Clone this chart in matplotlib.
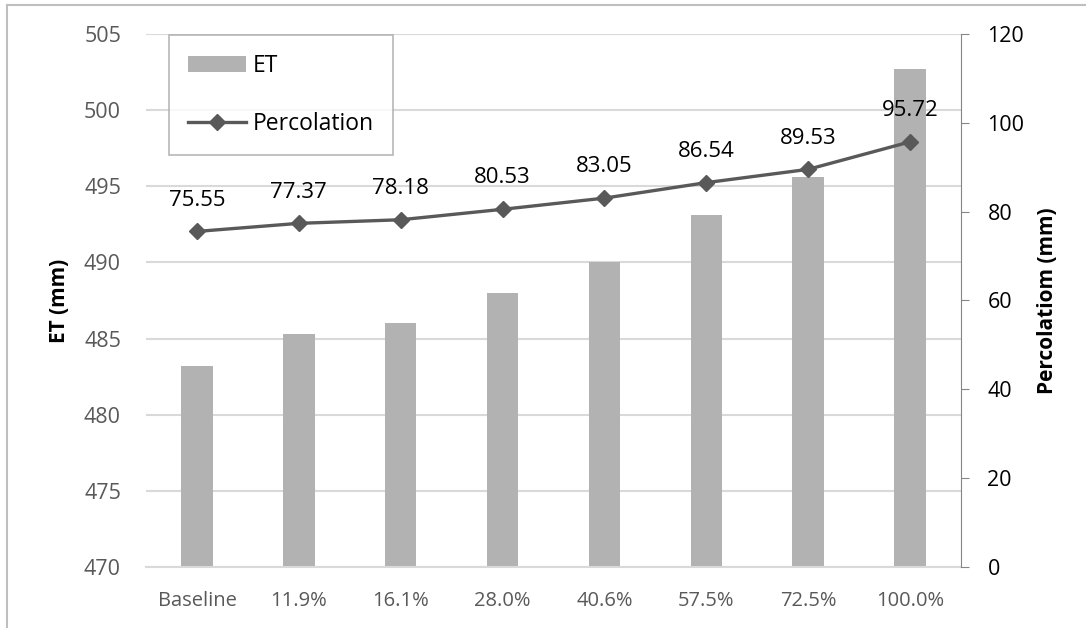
import numpy as np
import matplotlib.pyplot as plt
from matplotlib.lines import Line2D
from matplotlib.patches import Patch

plt.rcParams['font.family'] = ['Open Sans', 'DejaVu Sans']

# data
scenarios = ['Baseline', '11.9%', '16.1%', '28.0%', '40.6%', '57.5%', '72.5%', '100.0%']
et_mm = [483.2, 485.3, 486.0, 488.0, 490.0, 493.1, 495.6, 502.7]
percolation_mm = [75.55, 77.37, 78.18, 80.53, 83.05, 86.54, 89.53, 95.72]

bar_col = '#b2b2b2'
line_col = '#595959'
grid_col = '#d9d9d9'
tick_col = '#595959'

fig = plt.figure(figsize=(10.86, 6.28), dpi=100)
ax = fig.add_axes([146/1086, 1-567/628, (961-146)/1086, (567-34)/628])
ax2 = ax.twinx()

x = np.arange(len(scenarios))

# ET bars on left axis
ax.bar(x, et_mm, width=0.31, color=bar_col, zorder=2)
ax.set_ylim(470, 505)
ax.set_yticks(np.arange(470, 506, 5))
ax.set_xlim(-0.5, len(scenarios) - 0.5)
ax.set_xticks(x)
ax.set_xticklabels(scenarios)
ax.yaxis.grid(True, color=grid_col, linewidth=1.5, zorder=0)
ax.set_axisbelow(True)
ax.tick_params(axis='y', length=0, labelsize=15.5, labelcolor=tick_col, pad=18)
ax.tick_params(axis='x', length=0, labelsize=14.5, labelcolor=tick_col, pad=17)
for s in ['top', 'left', 'right']:
    ax.spines[s].set_visible(False)
ax.spines['bottom'].set_color(grid_col)
ax.spines['bottom'].set_linewidth(1.5)
ax.set_ylabel('ET (mm)', fontsize=15, fontweight='bold', labelpad=10)

# Percolation line on right axis
ax2.plot(x, percolation_mm, color=line_col, linewidth=2.4, marker='D', markersize=8.5, zorder=3)
for xi, v in zip(x, percolation_mm):
    ax2.annotate(f'{v:.2f}', (xi, v), xytext=(0, 15), textcoords='offset points',
                 ha='center', va='bottom', fontsize=16, color='black')
ax2.set_ylim(0, 120)
ax2.set_yticks(np.arange(0, 121, 20))
ax2.tick_params(axis='y', length=6, color='#868686', labelsize=15.5, labelcolor='black', pad=13)
for s in ['top', 'left', 'bottom']:
    ax2.spines[s].set_visible(False)
ax2.spines['right'].set_color('#868686')
ax2.set_ylabel('Percolatiom (mm)', fontsize=15, fontweight='bold', labelpad=9)

# legend
handles = [Patch(facecolor=bar_col, edgecolor='none'),
           Line2D([0], [0], color=line_col, linewidth=2.4, marker='D', markersize=8.5)]
leg = fig.legend(handles, ['ET', 'Percolation'], loc='upper left',
                 bbox_to_anchor=(169/1086, 1-35/628), borderaxespad=0,
                 fontsize=16.5, frameon=True, fancybox=False, labelspacing=1.45,
                 borderpad=0.85, handlelength=2.5, handletextpad=0.3)
leg.get_frame().set_edgecolor('#a6a6a6')
leg.get_frame().set_linewidth(1.2)

# chart frame (top and left edges visible)
fig.add_artist(Line2D([7/1086, 7/1086], [0, 1-5/628], color='#bfbfbf', linewidth=1.5, transform=fig.transFigure))
fig.add_artist(Line2D([7/1086, 1], [1-5/628, 1-5/628], color='#bfbfbf', linewidth=1.5, transform=fig.transFigure))

fig.savefig('out.png', dpi=100)
